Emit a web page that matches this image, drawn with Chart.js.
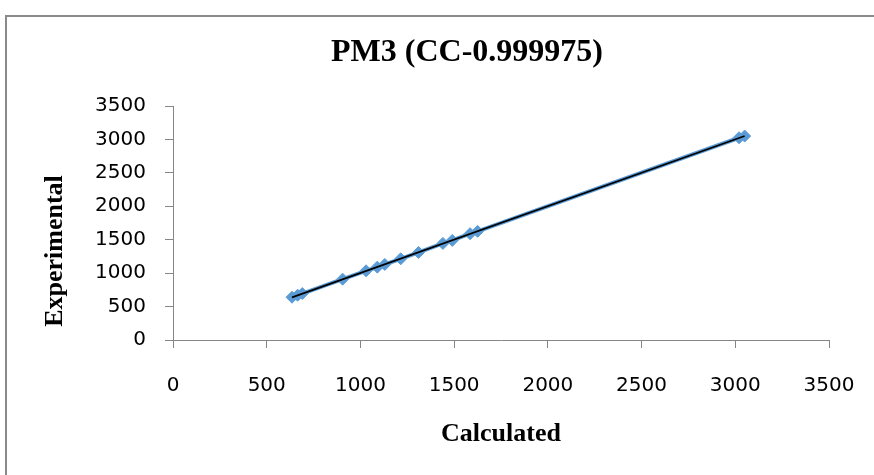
<!DOCTYPE html>
<html>
<head>
<meta charset="utf-8">
<script src="https://cdn.jsdelivr.net/npm/chart.js@4.4.1/dist/chart.umd.min.js"></script>
<style>
html, body { margin: 0; padding: 0; background: #fff; }
#wrap { position: relative; width: 874px; height: 475px; overflow: hidden; }
#marco { position: absolute; left: 5px; top: 15px; width: 900px; height: 500px; border-top: 2px solid #8a8a8a; border-left: 2px solid #8a8a8a; pointer-events: none; }
</style>
</head>
<body>
<div id="wrap">
  <canvas id="grafico" width="874" height="475"></canvas>
  <div id="marco"></div>
</div>
<script>
// Valores (Calculated vs Experimental)
const calculado   = [635, 665, 690, 905, 1030, 1090, 1130, 1215, 1310, 1440, 1490, 1585, 1625, 3020, 3050];
const experimental = [640, 670, 695, 910, 1035, 1090, 1130, 1215, 1310, 1445, 1490, 1590, 1625, 3025, 3050];

const titulo = 'PM3 (CC-0.999975)';
const tituloX = 'Calculated';
const tituloY = 'Experimental';
const ejeMin = 0, ejeMax = 3500, ejePaso = 500;

const gris = '#868686';
const azul = '#5b9bd5';

// Linea de tendencia (minimos cuadrados)
function tendencia(xs, ys) {
    const n = xs.length;
    const mx = xs.reduce((a, b) => a + b, 0) / n;
    const my = ys.reduce((a, b) => a + b, 0) / n;
    let num = 0, den = 0;
    for (let i = 0; i < n; i++) {
        num += (xs[i] - mx) * (ys[i] - my);
        den += (xs[i] - mx) * (xs[i] - mx);
    }
    const m = num / den;
    const b = my - m * mx;
    const x0 = Math.min(...xs), x1 = Math.max(...xs);
    return [{ x: x0, y: m * x0 + b }, { x: x1, y: m * x1 + b }];
}

const puntos = calculado.map((c, i) => ({ x: c, y: experimental[i] }));

// Mueve un elemento al dibujarlo (titulo del eje y y titulo general)
function desplazar(chart, obj, metodo, dx, dy) {
    if (obj['_movido_' + metodo]) return;
    const orig = obj[metodo];
    obj[metodo] = function () {
        chart.ctx.save();
        chart.ctx.translate(dx, dy);
        orig.apply(this, arguments);
        chart.ctx.restore();
    };
    obj['_movido_' + metodo] = true;
}

const ajustesTitulos = {
    id: 'ajustesTitulos',
    afterLayout(chart) {
        desplazar(chart, chart.scales.y, 'drawTitle', 0, 28);
        if (chart.titleBlock) desplazar(chart, chart.titleBlock, 'draw', 17.5, 0);
    }
};

const fuenteTicks = { family: 'DejaVu Sans', size: 20 };
const fuenteTitulo = { family: 'Liberation Serif', size: 26, weight: 'bold' };
const sinComas = v => String(v);

new Chart(document.getElementById('grafico').getContext('2d'), {
    type: 'scatter',
    data: {
        datasets: [
            {
                label: 'Tendencia',
                data: tendencia(calculado, experimental),
                showLine: true,
                borderColor: '#000',
                borderWidth: 1.75,
                pointRadius: 0
            },
            {
                label: 'PM3',
                data: puntos,
                showLine: true,
                borderColor: azul,
                borderWidth: 4,
                backgroundColor: azul,
                pointStyle: 'rectRot',
                pointRadius: 6,
                pointBorderWidth: 1,
                pointBorderColor: azul,
                pointBackgroundColor: azul
            }
        ]
    },
    options: {
        responsive: false,
        animation: false,
        layout: { padding: { left: 70, right: 45, top: 0, bottom: 0 } },
        plugins: {
            legend: { display: false },
            tooltip: { enabled: false },
            title: {
                display: true,
                text: titulo,
                color: '#000',
                font: { family: 'Liberation Serif', size: 32, weight: 'bold' },
                padding: { top: 33.8, bottom: 33.8 }
            }
        },
        scales: {
            x: {
                type: 'linear',
                min: ejeMin,
                max: ejeMax,
                ticks: { stepSize: ejePaso, color: '#000', font: fuenteTicks, padding: 26, callback: sinComas },
                grid: { drawOnChartArea: false, tickLength: 8, color: gris },
                border: { color: gris },
                title: { display: true, text: tituloX, color: '#000', font: fuenteTitulo, padding: { top: 0, bottom: 25.4 } },
                afterFit: s => { s.height = 135; s.paddingLeft = 0; s.paddingRight = 0; }
            },
            y: {
                type: 'linear',
                min: ejeMin,
                max: ejeMax,
                ticks: { stepSize: ejePaso, color: '#000', font: fuenteTicks, padding: 19, callback: sinComas },
                grid: { drawOnChartArea: false, tickLength: 8, color: gris },
                border: { color: gris },
                title: { display: true, text: tituloY, color: '#000', font: fuenteTitulo, padding: { top: -30.6, bottom: 0 } },
                afterFit: s => { s.width = 103; }
            }
        }
    },
    plugins: [ajustesTitulos]
});
</script>
</body>
</html>
